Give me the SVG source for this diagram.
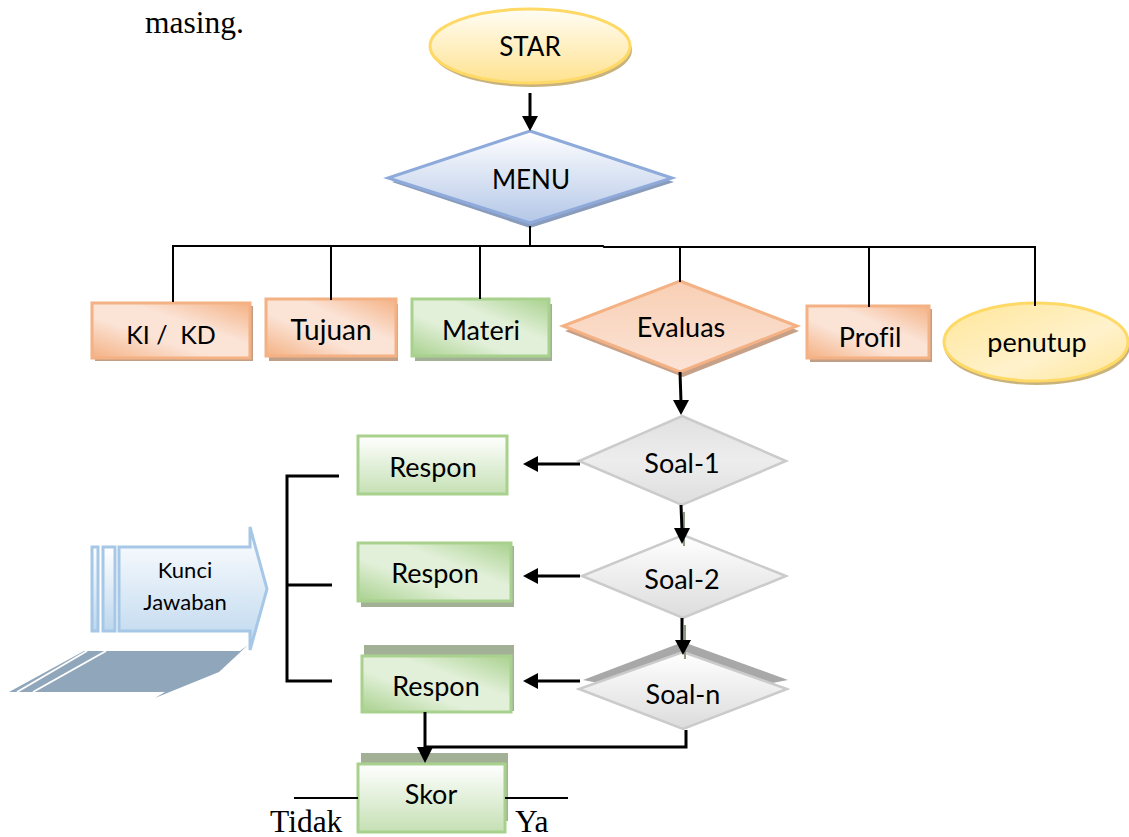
<svg xmlns="http://www.w3.org/2000/svg" width="1129" height="837" viewBox="0 0 1129 837">
<style>
text{font-family:"Lato","Open Sans",sans-serif;font-size:27px;fill:#000;text-anchor:middle;white-space:pre;font-variant-ligatures:none}
.tnr{font-family:"Liberation Serif",serif;font-size:31.5px;text-anchor:start}
.t26{font-size:26px}
.t22{font-size:22px}
.c{fill:none;stroke:#000;stroke-width:3}
.c1{fill:none;stroke:#000;stroke-width:2}
.o{stroke:#f4b183;stroke-width:3}
.g{stroke:#a9d18e;stroke-width:3}
.gr{stroke:#cbcbcb;stroke-width:2.5}
.y{stroke:#ffd966;stroke-width:3}
.ar{fill:#000;stroke:none}
.sh{fill:none;stroke:#8b9a7e;stroke-width:2}
</style>
<defs>
<linearGradient id="oD" x1="0" y1="1" x2="1" y2="0"><stop offset="0" stop-color="#f4b183"/><stop offset=".38" stop-color="#fbe3d6"/><stop offset=".62" stop-color="#fbe3d6"/><stop offset="1" stop-color="#f4b183"/></linearGradient>
<linearGradient id="oV" x1="0" y1="0" x2="0" y2="1"><stop offset="0" stop-color="#f8cfb4"/><stop offset="1" stop-color="#fbe3d6"/></linearGradient>
<linearGradient id="gD" x1="0" y1="1" x2="1" y2="0"><stop offset="0" stop-color="#a9d18e"/><stop offset=".38" stop-color="#e2f0d9"/><stop offset=".62" stop-color="#e2f0d9"/><stop offset="1" stop-color="#a9d18e"/></linearGradient>
<linearGradient id="gV" x1="0" y1="0" x2="0" y2="1"><stop offset="0" stop-color="#fff"/><stop offset="1" stop-color="#c5e0b4"/></linearGradient>
<linearGradient id="yV" x1="0" y1="0" x2="0" y2="1"><stop offset="0" stop-color="#fffdf5"/><stop offset="1" stop-color="#ffe28f"/></linearGradient>
<linearGradient id="yU" x1="0" y1="0" x2="1" y2="1"><stop offset="0" stop-color="#ffe699"/><stop offset=".6" stop-color="#fff2cc"/><stop offset="1" stop-color="#ffe699"/></linearGradient>
<linearGradient id="bV" x1="0" y1="0" x2="0" y2="1"><stop offset="0" stop-color="#fff"/><stop offset="1" stop-color="#b4c7e7"/></linearGradient>
<linearGradient id="sV" x1="0" y1="0" x2="0" y2="1"><stop offset="0" stop-color="#fff"/><stop offset="1" stop-color="#bdd7ee"/></linearGradient>
<linearGradient id="grA" x1="0" y1="0" x2="0" y2="1"><stop offset="0" stop-color="#e0e0e0"/><stop offset=".5" stop-color="#ededed"/><stop offset="1" stop-color="#dedede"/></linearGradient>
<linearGradient id="grB" x1="0" y1="0" x2="0" y2="1"><stop offset="0" stop-color="#fff"/><stop offset="1" stop-color="#dcdcdc"/></linearGradient>
</defs>

<text class="tnr" x="145" y="33">masing.</text>
<text class="tnr" x="270" y="832">Tidak</text>
<text class="tnr" x="515" y="832">Ya</text>

<g id="star">
<ellipse cx="532" cy="50" rx="100" ry="37" fill="#c9b27c"/>
<ellipse cx="530" cy="46" rx="100" ry="37" fill="url(#yV)" class="y"/>
<text class="t26" x="530" y="56">STAR</text>
</g>
<g id="menu">
<path d="M530 136L674 182L530 228L392 182Z" fill="#8a9cbc"/>
<path d="M530 131L672 178L530 223L388 178Z" fill="url(#bV)" stroke="#8eaadb" stroke-width="3"/>
<text class="t26" x="531" y="189">MENU</text>
</g>
<g id="ki-kd">
<rect x="95" y="306" width="158" height="55" fill="#c19e86"/>
<rect x="92" y="303" width="158" height="55" fill="url(#oD)" class="o"/>
<text x="171" y="344" style="font-size:25px">KI /  KD</text>
</g>
<g id="tujuan">
<rect x="269" y="304" width="129" height="57" fill="#c19e86"/>
<rect x="266" y="299" width="130" height="57" fill="url(#oD)" class="o"/>
<text x="331" y="340" style="font-size:28px">Tujuan</text>
</g>
<g id="materi">
<rect x="415" y="304" width="137" height="57" fill="#a2b096"/>
<rect x="412" y="299" width="137" height="57" fill="url(#gD)" class="g"/>
<text x="481" y="340">Materi</text>
</g>
<g id="evaluas">
<path d="M683 285L799 331L683 377L565 331Z" fill="#c7a088"/>
<path d="M680 281L797 326L680 372L563 326Z" fill="url(#oV)" class="o"/>
<text x="681" y="337">Evaluas</text>
</g>
<g id="profil">
<rect x="810" y="309" width="122" height="53" fill="#c19e86"/>
<rect x="807" y="306" width="122" height="52" fill="url(#oD)" class="o"/>
<text x="870" y="347">Profil</text>
</g>
<g id="penutup">
<ellipse cx="1037" cy="346" rx="93" ry="39" fill="#c9b27c"/>
<ellipse cx="1036" cy="342" rx="92" ry="39" fill="url(#yU)" class="y"/>
<text x="1037" y="352">penutup</text>
</g>
<g id="soal-1">
<path d="M682 416L786 461L682 505L579 461Z" fill="url(#grA)" class="gr"/>
<text x="682" y="473">Soal-1</text>
</g>
<g id="soal-2">
<path d="M683 535L786 576L683 618L582 576Z" fill="url(#grB)" class="gr"/>
<text x="682" y="589">Soal-2</text>
</g>
<g id="soal-n">
<path d="M683 642L788 680L683 700L583 680Z" fill="#a8a8a8"/>
<path d="M683 652L787 689L683 729L579 689Z" fill="url(#grB)" class="gr"/>
<text x="683" y="704">Soal-n</text>
</g>
<g id="respon-1">
<rect x="358" y="436" width="149" height="58" fill="url(#gV)" class="g"/>
<text x="433" y="477">Respon</text>
</g>
<g id="respon-2">
<rect x="361" y="546" width="153" height="61" fill="#a2b096"/>
<rect x="358" y="543" width="153" height="58" fill="url(#gD)" class="g"/>
<text x="435" y="583">Respon</text>
</g>
<g id="respon-3">
<rect x="364" y="645" width="150" height="66" fill="#a2b096"/>
<rect x="362" y="656" width="149" height="56" fill="url(#gD)" class="g"/>
<text x="436" y="696">Respon</text>
</g>
<g id="skor">
<rect x="361" y="753" width="147" height="68" fill="#a2b096"/>
<rect x="358" y="764" width="147" height="68" fill="url(#gV)" class="g"/>
<text x="431" y="804">Skor</text>
</g>
<g id="kunci-jawaban">
<path d="M9 692L84 651H240L248 645L219 672L155 698L165 692Z" fill="#90a6ba"/>
<path d="M17 692L87 651M33 692L106 651" stroke="#fff" stroke-width="2" fill="none"/>
<rect x="92" y="547" width="6" height="84" fill="url(#sV)" stroke="#a6c8e6" stroke-width="3"/>
<rect x="103" y="547" width="12" height="84" fill="url(#sV)" stroke="#a6c8e6" stroke-width="3"/>
<path d="M119 547H250V527L267 589L250 650V631H119Z" fill="url(#sV)" stroke="#a6c8e6" stroke-width="3"/>
<text class="t22" x="185" y="578">Kunci</text>
<text class="t22" x="185" y="610">Jawaban</text>
</g>

<g id="connectors">
<path class="c" d="M530 93V118"/><path class="ar" d="M522 116H538L530 131Z"/>
<path class="c1" d="M530 226V246"/>
<path class="c1" d="M173 302V246H603L604 247H1035V306"/>
<path class="c1" d="M331 246V300M480 246V299M680 246V282M869 247V307"/>
<path class="c" d="M680 372L681 402"/><path class="ar" d="M673 400H689L681 415Z"/>
<path class="c" d="M580 464H536"/><path class="ar" d="M538 456V472L523 464Z"/>
<path class="sh" d="M684 512V546"/>
<path class="c" d="M681 505L682 530"/><path class="ar" d="M674 528H690L682 544Z"/>
<path class="c" d="M580 576H536"/><path class="ar" d="M538 568V584L523 576Z"/>
<path class="sh" d="M685 625V659"/>
<path class="c" d="M682 618V642"/><path class="ar" d="M675 640H691L683 655Z"/>
<path class="c" d="M580 681H536"/><path class="ar" d="M538 673V689L523 681Z"/>
<path class="c" d="M425 712V750"/><path class="ar" d="M417 747H433L425 763Z"/>
<path class="c" d="M425 747H686V730"/>
<path class="c" d="M339 476H287V681H332M287 585H332"/>
<path class="c1" d="M294 798H358M505 798H568"/>
</g>
</svg>
